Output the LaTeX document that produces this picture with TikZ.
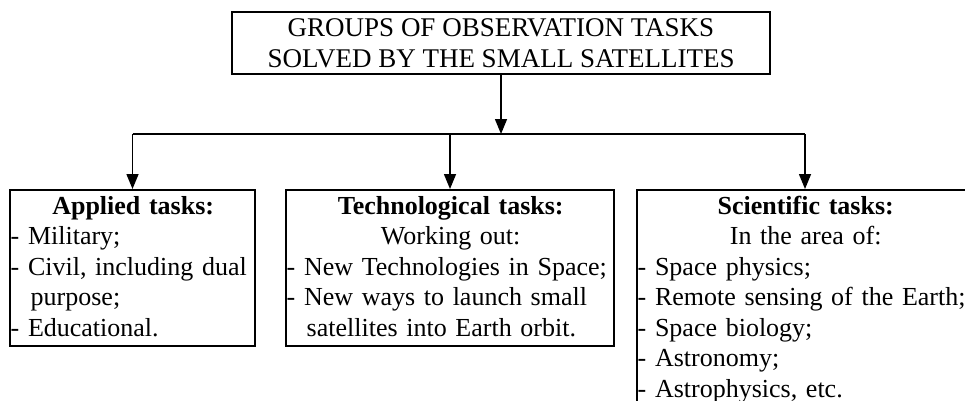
\documentclass[tikz,border=0pt]{standalone}
\usepackage{fontspec}
\setmainfont{Liberation Serif}
\usetikzlibrary{arrows.meta}
\begin{document}
\begin{tikzpicture}[x=1pt,y=-1pt,
  box/.style={draw, line width=2pt, inner sep=0pt},
  txt/.style={anchor=north west, inner sep=0pt, text width=#1, align=left,
    font=\fontsize{26}{30.5}\selectfont},
  conn/.style={line width=1.5pt},
  arr/.style={conn, -{Triangle[width=12pt,length=15pt]}}]
\useasboundingbox (0,0) rectangle (965,400);
\clip (0,0) rectangle (965,400);
% top box
\node[box, minimum width=538pt, minimum height=62pt, align=center,
  font=\fontsize{27}{31}\selectfont] (top) at (501,43)
  {GROUPS OF OBSERVATION TASKS\\SOLVED BY THE SMALL SATELLITES};
% boxes
\node[box, minimum width=245pt, minimum height=156pt] (applied) at (132.5,268) {};
\node[box, minimum width=328pt, minimum height=156pt] (techn) at (450,268) {};
\node[box, minimum width=336pt, minimum height=240pt] (sci) at (805,310) {};
% texts
\node[txt=245pt] (appliedtxt) at ([xshift=1.5pt]applied.north west)
  {{\centering\rule{0pt}{25pt}\bfseries Applied tasks:\par}
   - Military;\\
   - Civil, including dual\\
   \hspace*{20pt}purpose;\\
   - Educational.};
\node[txt=328pt] (techntxt) at ([xshift=1.5pt]techn.north west)
  {{\centering\rule{0pt}{25pt}\bfseries Technological tasks:\par}
   {\centering Working out:\par}
   - New Technologies in Space;\\
   - New ways to launch small\\
   \hspace*{20pt}satellites into Earth orbit.};
\node[txt=336pt] (scitxt) at ([xshift=1.5pt]sci.north west)
  {{\centering\rule{0pt}{25pt}\bfseries Scientific tasks:\par}
   {\centering In the area of:\par}
   - Space physics;\\
   - Remote sensing of the Earth;\\
   - Space biology;\\
   - Astronomy;\\
   - Astrophysics, etc.};
% connectors
\coordinate (bus) at (501,134);
\draw[arr] (top.south) -- (bus);
\draw[conn] (applied.north |- bus) -- (sci.north |- bus);
\draw[arr] (applied.north |- bus) -- (applied.north);
\draw[arr] (techn.north |- bus) -- (techn.north);
\draw[arr] (sci.north |- bus) -- (sci.north);
\end{tikzpicture}
\end{document}
